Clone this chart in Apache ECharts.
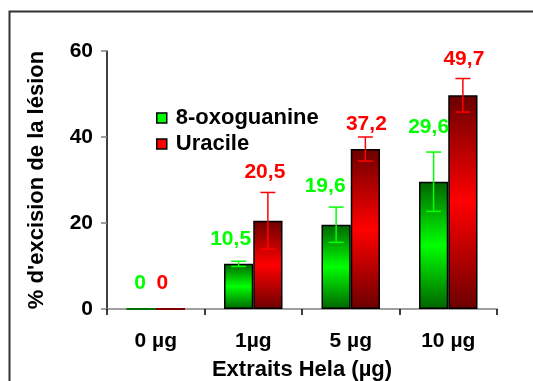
<!DOCTYPE html>
<html><head><meta charset="utf-8">
<script src="https://cdn.jsdelivr.net/npm/echarts@6/dist/echarts.min.js"></script>
<style>html,body{margin:0;padding:0;background:#fff}#c{width:533px;height:381px}</style>
</head><body><div id="c"></div>
<script>
var categories = ['0 µg', '1µg', '5 µg', '10 µg'];
var oxoValues = [0, 10.5, 19.6, 29.6];
var oxoErrors = [0, 0.6, 4.1, 6.9];
var uraValues = [0, 20.5, 37.2, 49.7];
var uraErrors = [0, 6.6, 2.8, 3.9];
var yTicks = [0, 20, 40, 60];

// label placement styling (pixel nudges for value labels, as in the original)
var labelStyle = {
  oxo: {dx: [-1, -8, -11, -5], lift: [26, 22, 21, 25]},
  ura: {dx: [-8, -3, 1, 1], lift: [26, 20, 13, 19]}
};

var FONT = '"Liberation Sans", Arial, sans-serif';
var GREEN = '#00ff00', RED = '#ff0000';

function grad(dark, bright) {
  return new echarts.graphic.LinearGradient(0, 0, 0, 1, [
    {offset: 0, color: dark}, {offset: 0.5, color: bright}, {offset: 1, color: dark}
  ]);
}
function fmt(v){ return String(v).replace('.', ','); }

function errData(vals, errs){
  return vals.map(function(v,i){ return [i, v - errs[i], v + errs[i], v]; });
}
function barData(vals, dark){
  return vals.map(function(v){
    return v === 0 ? {value:v, itemStyle:{borderColor:dark, borderWidth:2}} : v;
  });
}

function makeErr(sign, color, ls){
  return function(params, api){
    var i = api.value(0);
    var bw = api.size([1,0])[0];
    var c = api.coord([i, api.value(3)]);
    var x = c[0] + sign * bw * 0.15;
    var lo = api.coord([i, api.value(1)])[1];
    var hi = api.coord([i, api.value(2)])[1];
    var v = api.value(3);
    var children = [];
    if (v > 0) {
      var st = {stroke: color, lineWidth: 1.5};
      children.push({type:'line', shape:{x1:x,y1:lo,x2:x,y2:hi}, style:st});
      children.push({type:'line', shape:{x1:x-7.5,y1:hi,x2:x+7.5,y2:hi}, style:st});
      children.push({type:'line', shape:{x1:x-7.5,y1:lo,x2:x+7.5,y2:lo}, style:st});
    }
    children.push({type:'text', x: x + ls.dx[i], y: hi - ls.lift[i],
      style:{text: fmt(v), fill: color, font: 'bold 21px ' + FONT, align:'center', verticalAlign:'middle'}});
    return {type:'group', children: children};
  };
}

var chart = echarts.init(document.getElementById('c'), null, {renderer:'canvas'});
chart.setOption({
  animation: false,
  backgroundColor: '#fff',
  graphic: [{type:'rect', shape:{x:9.5, y:11.5, width:600, height:500}, style:{fill:'none', stroke:'#333', lineWidth:2}, z:-1}],
  grid: {left:107, right:36, top:51, bottom:72, containLabel:false, outerBoundsMode:'none'},
  legend: {
    left: 151, top: 102, orient:'vertical', itemWidth:10, itemHeight:10, itemGap:4,
    textStyle:{fontFamily:FONT, fontWeight:'bold', fontSize:22, color:'#000', padding:[0,0,0,4]},
    data: [
      {name:'8-oxoguanine', icon:'rect', itemStyle:{color:GREEN, borderColor:'#000', borderWidth:1.5}},
      {name:'Uracile', icon:'rect', itemStyle:{color:RED, borderColor:'#000', borderWidth:1.5}}
    ]
  },
  xAxis: {
    type:'category', data: categories,
    axisLine:{lineStyle:{color:'#808080', width:1.5}},
    axisTick:{show:true, length:6, lineStyle:{color:'#000', width:1.5}},
    axisLabel:{fontFamily:FONT, fontWeight:'bold', fontSize:21, color:'#000', margin:22},
    name:'Extraits Hela (µg)', nameLocation:'middle', nameGap:50,
    nameTextStyle:{fontFamily:FONT, fontWeight:'bold', fontSize:22, color:'#000'}
  },
  yAxis: {
    type:'value', min:yTicks[0], max:yTicks[yTicks.length-1], interval:20,
    splitLine:{show:false},
    axisLine:{show:true, lineStyle:{color:'#000', width:1.5}},
    axisTick:{show:true, length:6, lineStyle:{color:'#808080', width:1.5}},
    axisLabel:{fontFamily:FONT, fontWeight:'bold', fontSize:21, color:'#000', margin:14},
    name:"% d'excision de la lésion", nameLocation:'middle', nameGap:59, nameRotate:90,
    nameTextStyle:{fontFamily:FONT, fontWeight:'bold', fontSize:22, color:'#000'}
  },
  series: [
    {name:'8-oxoguanine', type:'bar', data: barData(oxoValues, '#007000'), barWidth:'30%', barGap:'0%',
     itemStyle:{color: grad('#006400', '#00ff00'), borderColor:'#000', borderWidth:1.5}},
    {name:'Uracile', type:'bar', data: barData(uraValues, '#800000'), barWidth:'30%', barGap:'0%',
     itemStyle:{color: grad('#6b0000', '#ff0000'), borderColor:'#000', borderWidth:1.5}},
    {type:'custom', name:'errOxo', renderItem: makeErr(-1, GREEN, labelStyle.oxo), data: errData(oxoValues, oxoErrors), z:5,
     encode:{x:0, y:[1,2]}},
    {type:'custom', name:'errUra', renderItem: makeErr(1, RED, labelStyle.ura), data: errData(uraValues, uraErrors), z:5,
     encode:{x:0, y:[1,2]}}
  ]
});
</script></body></html>
